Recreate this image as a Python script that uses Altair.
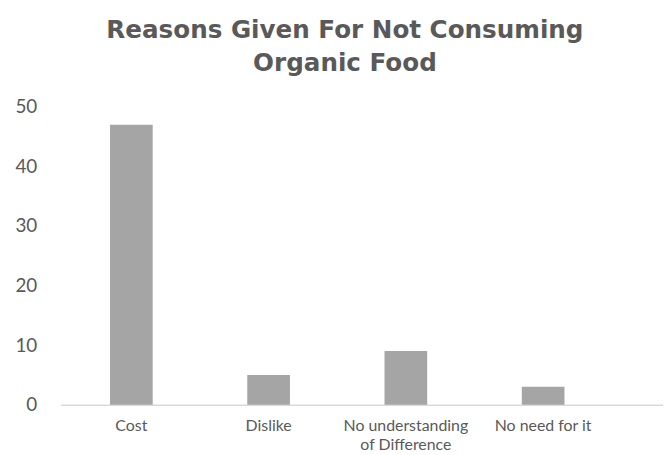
import altair as alt
import pandas as pd

categories = ["Cost", "Dislike", "No understanding of Difference", "No need for it"]
values = [47, 5, 9, 3]

df = pd.DataFrame({"reason": categories, "count": values})

label_expr = ("datum.label == 'No understanding of Difference' ? "
              "['No understanding', 'of Difference'] : datum.label")

chart = alt.Chart(df).mark_bar(color="#a5a5a5").encode(
    x=alt.X("reason:N", sort=categories, title=None,
            scale=alt.Scale(paddingInner=0.689, paddingOuter=0.539, align=0.334),
            axis=alt.Axis(labelAngle=0, labelExpr=label_expr, labelFont="Lato",
                          labelFontSize=16, labelColor="#595959", ticks=False,
                          domainColor="#d9d9d9", domainWidth=1.5, labelPadding=13,
                          labelLineHeight=19, labelLimit=220)),
    y=alt.Y("count:Q", title=None,
            scale=alt.Scale(domain=[0, 50]),
            axis=alt.Axis(values=[0, 10, 20, 30, 40, 50], grid=False, domain=False,
                          ticks=False, labelFont="Lato", labelFontSize=19,
                          labelColor="#595959", labelPadding=24)),
).properties(
    width=607,
    height=300,
    padding={"left": 53, "top": 98, "right": 0, "bottom": 50},
    autosize=alt.AutoSizeParams(type="none"),
    title=alt.TitleParams(
        text=["Reasons Given For Not Consuming", "Organic Food"],
        font="DejaVu Sans", fontSize=24.8, fontWeight="bold", color="#595959",
        anchor="middle", dx=-17, lineHeight=34, offset=22,
    ),
).configure_view(stroke=None)

chart.save("out.html", embed_options={"renderer": "svg", "actions": False})
